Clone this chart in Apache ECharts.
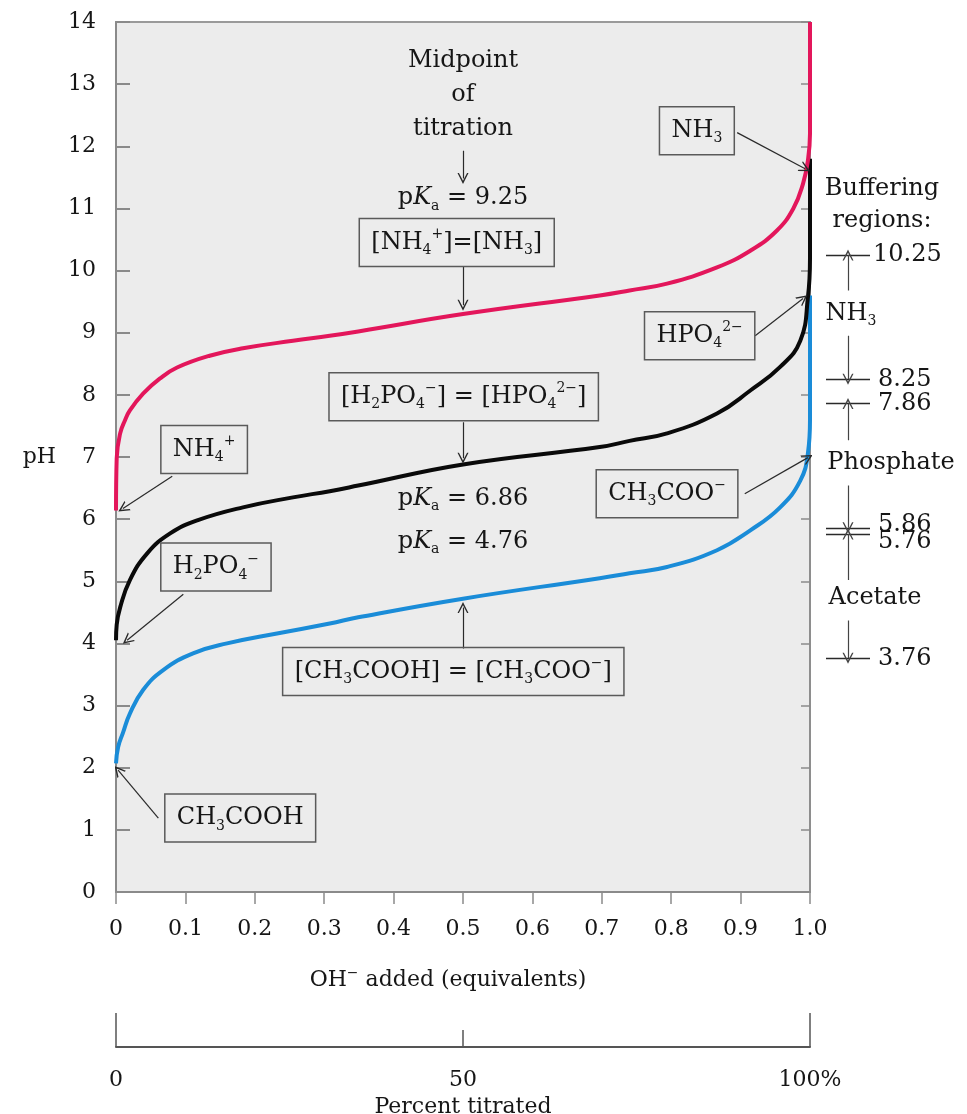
<!DOCTYPE html>
<html>
<head>
<meta charset="utf-8">
<script src="https://cdn.jsdelivr.net/npm/echarts@6/dist/echarts.min.js"></script>
<style>
  html, body { margin: 0; padding: 0; background: #ffffff; }
  #chart { width: 967px; height: 1114px; }
</style>
</head>
<body>
<div id="chart"></div>
<script>
// ---------------- DATA ----------------
// OH- added (equivalents) vs pH
const acetateCurve = [
  [0, 2.07], [0.003, 2.33], [0.01, 2.56], [0.02, 2.87], [0.039, 3.25], [0.068, 3.57],
  [0.111, 3.84], [0.16, 4.0], [0.232, 4.16], [0.308, 4.32], [0.349, 4.42], [0.5, 4.72],
  [0.697, 5.05], [0.74, 5.13], [0.794, 5.23], [0.866, 5.5], [0.914, 5.82], [0.957, 6.19],
  [0.986, 6.62], [0.997, 7.06], [1, 7.6], [1, 9.6]
];
const phosphateCurve = [
  [0, 4.05], [0.001, 4.3], [0.006, 4.58], [0.02, 5.02], [0.045, 5.45], [0.078, 5.77],
  [0.117, 5.98], [0.183, 6.19], [0.255, 6.35], [0.308, 6.45], [0.349, 6.54], [0.5, 6.88],
  [0.697, 7.16], [0.74, 7.26], [0.794, 7.38], [0.866, 7.7], [0.914, 8.07], [0.957, 8.45],
  [0.986, 8.87], [0.997, 9.57], [1, 10.2], [1, 11.8]
];
const ammoniaCurve = [
  [0, 6.14], [0.001, 6.98], [0.006, 7.38], [0.013, 7.59], [0.02, 7.75], [0.039, 8.02],
  [0.063, 8.26], [0.088, 8.44], [0.135, 8.63], [0.183, 8.75], [0.255, 8.87], [0.308, 8.95],
  [0.349, 9.02], [0.5, 9.3], [0.697, 9.6], [0.74, 9.68], [0.794, 9.79], [0.866, 10.05],
  [0.914, 10.32], [0.952, 10.64], [0.976, 11.0], [0.99, 11.4], [0.997, 11.77], [1, 12.2], [1, 14]
];
const bufferingMarks = [10.25, 8.25, 7.86, 5.86, 5.76, 3.76];
const bufferingLabels = ['10.25', '8.25', '7.86', '5.86', '5.76', '3.76'];
const pKaLabels = ['9.25', '6.86', '4.76'];
const percentTicks = [0, 50, 100];

// ---------------- STYLE ----------------
const FONT = '"DejaVu Serif", serif';
const TXT = '#161616';
const AX = '#8a8a8a';
const rich = {
  sub: { fontFamily: FONT, fontSize: 14, lineHeight: 14, verticalAlign: 'bottom', color: TXT },
  sup: { fontFamily: FONT, fontSize: 14, lineHeight: 16, verticalAlign: 'top', color: TXT },
  i: { fontFamily: FONT, fontSize: 24, lineHeight: 30, fontStyle: 'italic', color: TXT }
};
const baseLabel = {
  show: true, position: 'inside', fontFamily: FONT, fontSize: 24, lineHeight: 30,
  color: TXT, rich: rich
};
function plain(text, x, y, extra) {
  return { value: [x, y], label: Object.assign({ formatter: text }, extra || {}) };
}
function box(text, x, y) {
  return { value: [x, y], label: { formatter: text, borderColor: '#5a5a5a', borderWidth: 1.5, padding: [9, 12, 9, 12] } };
}
const pKa = t => 'p{i|K}{sub|a} = ' + t;

const mainTexts = [
  plain('Midpoint\nof\ntitration', 0.5, 12.83, { lineHeight: 34 }),
  plain(pKa(pKaLabels[0]), 0.5, 11.17),
  box('[NH{sub|4}{sup|+}]=[NH{sub|3}]', 0.491, 10.45),
  box('[H{sub|2}PO{sub|4}{sup|−}] = [HPO{sub|4}{sup|2−}]', 0.501, 7.97),
  plain(pKa(pKaLabels[1]), 0.5, 6.33),
  plain(pKa(pKaLabels[2]), 0.5, 5.64),
  box('[CH{sub|3}COOH] = [CH{sub|3}COO{sup|−}]', 0.486, 3.55),
  box('NH{sub|3}', 0.837, 12.25),
  box('HPO{sub|4}{sup|2−}', 0.841, 8.95),
  box('CH{sub|3}COO{sup|−}', 0.794, 6.41),
  box('NH{sub|4}{sup|+}', 0.127, 7.12),
  box('H{sub|2}PO{sub|4}{sup|−}', 0.144, 5.23),
  box('CH{sub|3}COOH', 0.179, 1.19)
];
const mainArrows = [
  [[0.5, 11.93], [0.5, 11.48]],
  [[0.5, 10.06], [0.5, 9.44]],
  [[0.5, 7.56], [0.5, 6.98]],
  [[0.5, 3.92], [0.5, 4.58]],
  [[0.895, 12.22], [0.993, 11.64]],
  [[0.921, 8.95], [0.99, 9.55]],
  [[0.906, 6.41], [0.997, 6.99]],
  [[0.081, 6.69], [0.01, 6.17]],
  [[0.097, 4.79], [0.016, 4.05]],
  [[0.061, 1.19], [0.003, 1.96]]
];
const sideArrows = [
  [[0.28, 9.68], [0.28, bufferingMarks[0]]],
  [[0.28, 8.95], [0.28, bufferingMarks[1]]],
  [[0.28, 7.27], [0.28, bufferingMarks[2]]],
  [[0.28, 6.54], [0.28, bufferingMarks[3]]],
  [[0.28, 5.02], [0.28, bufferingMarks[4]]],
  [[0.28, 4.37], [0.28, bufferingMarks[5]]]
];
const labelShift = [0, 0, 0, -3, 8, 0];
const sideTexts = [
  plain('Buffering\nregions:', 0.62, 11.06, { lineHeight: 32 }),
  plain('NH{sub|3}', 0.31, 9.31),
  plain('Phosphate', 0.71, 6.91),
  plain('Acetate', 0.55, 4.73)
].concat(bufferingMarks.map((v, i) => ({
  value: [i === 0 ? 0.53 : 0.58, v],
  label: { formatter: bufferingLabels[i], position: 'right', distance: 0, offset: [0, labelShift[i]] }
})));

const arrowSymbol = 'path://M5,0 L10,12 L8.7,12 L5,3.6 L1.3,12 L0,12 Z';

const axisFont = { fontFamily: FONT, fontSize: 22, color: TXT };

const option = {
  animation: false,
  backgroundColor: '#ffffff',
  grid: [
    { left: 116, right: 157, top: 22, bottom: 222, containLabel: false, outerBoundsMode: 'none', show: true, backgroundColor: '#ececec', borderColor: '#9a9a9a', borderWidth: 2 },
    { left: 820, width: 100, top: 22, bottom: 222, containLabel: false, outerBoundsMode: 'none' }
  ],
  xAxis: [
    {
      gridIndex: 0, type: 'value', min: 0, max: 1, interval: 0.1, position: 'bottom',
      axisLine: { show: true, onZero: false, lineStyle: { color: AX, width: 2 } },
      axisTick: { show: true, inside: false, length: 12, lineStyle: { color: AX, width: 1.5 } },
      axisLabel: Object.assign({ margin: 26, formatter: v => v === 0 ? '0' : v.toFixed(1) }, axisFont),
      splitLine: { show: false },
      name: 'OH{sup|−} added (equivalents)', nameLocation: 'middle', nameGap: 74,
      nameTextStyle: { fontFamily: FONT, fontSize: 22, color: TXT, lineHeight: 28, padding: [0, 30, 0, 0], rich: rich }
    },
    {
      gridIndex: 0, type: 'value', min: 0, max: 100, interval: 50, position: 'bottom', offset: 155,
      axisLine: { show: true, onZero: false, lineStyle: { color: '#555', width: 2 } },
      axisTick: { show: true, inside: true, length: 17, lineStyle: { color: '#555', width: 1.5 } },
      axisLabel: Object.assign({ margin: 22, formatter: v => v === percentTicks[2] ? v + '%' : String(v) }, axisFont),
      splitLine: { show: false },
      name: 'Percent titrated', nameLocation: 'middle', nameGap: 41,
      nameTextStyle: { fontFamily: FONT, fontSize: 22, color: TXT }
    },
    {
      gridIndex: 0, type: 'value', min: 0, max: 100, interval: 100, position: 'bottom', offset: 155,
      axisLine: { show: false, onZero: false },
      axisTick: { show: true, inside: true, length: 34, lineStyle: { color: '#555', width: 1.5 } },
      axisLabel: { show: false }, splitLine: { show: false }
    },
    { gridIndex: 1, type: 'value', min: 0, max: 1, show: false }
  ],
  yAxis: [
    {
      gridIndex: 0, type: 'value', min: 0, max: 14, interval: 1, position: 'left',
      axisLine: { show: true, onZero: false, lineStyle: { color: AX, width: 2 } },
      axisTick: { show: true, inside: true, length: 14, lineStyle: { color: AX, width: 2 } },
      axisLabel: Object.assign({ margin: 20 }, axisFont),
      splitLine: { show: false },
      name: 'pH', nameLocation: 'middle', nameRotate: 0, nameGap: 60,
      nameTextStyle: { fontFamily: FONT, fontSize: 22, color: TXT }
    },
    {
      gridIndex: 0, type: 'value', min: 0, max: 14, interval: 1, position: 'right',
      axisLine: { show: true, onZero: false, lineStyle: { color: AX, width: 1.5 } },
      axisTick: { show: true, inside: true, length: 9, lineStyle: { color: AX, width: 1.5 } },
      axisLabel: { show: false }, splitLine: { show: false }
    },
    { gridIndex: 1, type: 'value', min: 0, max: 14, show: false }
  ],
  series: [
    { type: 'line', name: 'Acetate', xAxisIndex: 0, yAxisIndex: 0, data: acetateCurve, showSymbol: false, symbol: 'none', smooth: 0.45, lineStyle: { color: '#1a8cd8', width: 4 }, z: 3 },
    { type: 'line', name: 'Phosphate', xAxisIndex: 0, yAxisIndex: 0, data: phosphateCurve, showSymbol: false, symbol: 'none', smooth: 0.45, lineStyle: { color: '#0a0a0a', width: 4 }, z: 4 },
    { type: 'line', name: 'Ammonia', xAxisIndex: 0, yAxisIndex: 0, data: ammoniaCurve, showSymbol: false, symbol: 'none', smooth: 0.45, lineStyle: { color: '#e3165b', width: 4 }, z: 5 },
    {
      type: 'lines', coordinateSystem: 'cartesian2d', xAxisIndex: 0, yAxisIndex: 0, silent: true, z: 6,
      symbol: ['none', arrowSymbol], symbolSize: [9, 11],
      lineStyle: { color: '#2a2a2a', width: 1.2, opacity: 1 },
      data: mainArrows.map(c => ({ coords: c }))
    },
    {
      type: 'scatter', xAxisIndex: 0, yAxisIndex: 0, symbolSize: 0, silent: true, z: 7,
      itemStyle: { opacity: 1 }, label: baseLabel, data: mainTexts
    },
    {
      type: 'lines', coordinateSystem: 'cartesian2d', xAxisIndex: 3, yAxisIndex: 2, silent: true,
      symbol: ['none', 'none'],
      lineStyle: { color: '#2a2a2a', width: 1.3, opacity: 1 },
      data: bufferingMarks.map(v => ({ coords: [[0.06, v], [0.5, v]] }))
    },
    {
      type: 'lines', coordinateSystem: 'cartesian2d', xAxisIndex: 3, yAxisIndex: 2, silent: true,
      symbol: ['none', arrowSymbol], symbolSize: [9, 11],
      lineStyle: { color: '#444', width: 1.2, opacity: 1 },
      data: sideArrows.map(c => ({ coords: c }))
    },
    {
      type: 'scatter', xAxisIndex: 3, yAxisIndex: 2, symbolSize: 0, silent: true,
      itemStyle: { opacity: 1 }, label: baseLabel, data: sideTexts
    }
  ]
};

const chart = echarts.init(document.getElementById('chart'), null, { renderer: 'canvas' });
chart.setOption(option);
</script>
</body>
</html>
